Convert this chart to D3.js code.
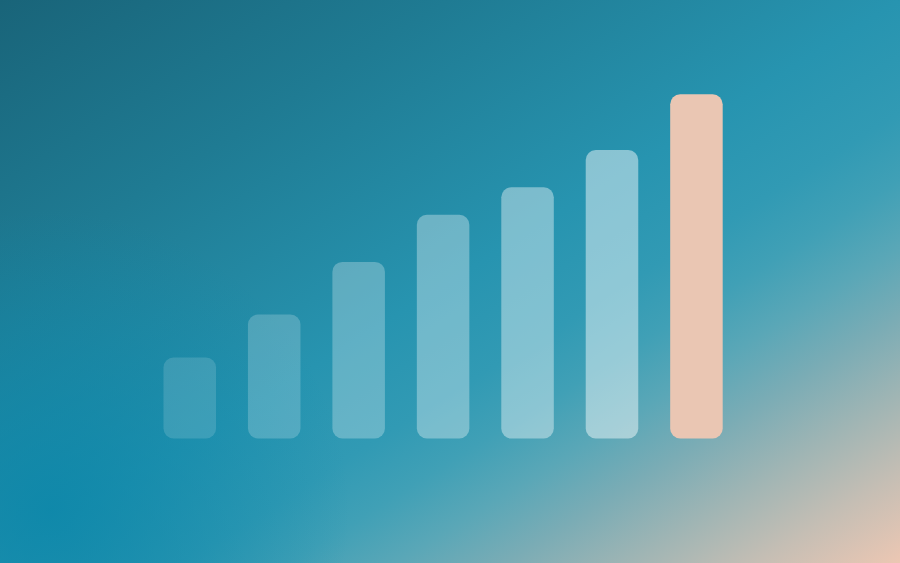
<!DOCTYPE html>
<html>
<head>
<meta charset="utf-8">
<script src="https://cdn.jsdelivr.net/npm/d3@7"></script>
<style>
    html, body { margin: 0; padding: 0; overflow: hidden; }
    svg { display: block; }
</style>
</head>
<body>
<div id="chart"></div>
<script>
/*
    Data
*/
const categories = ["A", "B", "C", "D", "E", "F", "G"];
const values = [23.5, 36, 51.3, 65, 73, 83.8, 100];
const highlight = "G";

/*
    Draw
*/
function main() {
    const width = 900;
    const height = 563;

    const svg = d3.select("#chart")
        .append("svg")
        .attr("width", width)
        .attr("height", height);

    // Background gradient (corner to corner)
    const defs = svg.append("defs");
    const grad = defs.append("linearGradient")
        .attr("id", "bg")
        .attr("x1", 0).attr("y1", 0)
        .attr("x2", 1).attr("y2", 1);
    const stops = [
        [0, "#196479"],
        [0.25, "#1f7b93"],
        [0.5, "#2794b0"],
        [0.6, "#319ab4"],
        [0.66, "#40a0b6"],
        [0.72, "#5aa7b7"],
        [0.78, "#7aacb5"],
        [0.85, "#a0b5b4"],
        [0.92, "#c5beb4"],
        [1, "#ecc7b3"]
    ];
    stops.forEach(s => {
        grad.append("stop").attr("offset", s[0]).attr("stop-color", s[1]);
    });
    svg.append("rect")
        .attr("width", width)
        .attr("height", height)
        .attr("fill", "url(#bg)");

    // bottom-left glow, more saturated blue
    const glow = defs.append("radialGradient")
        .attr("id", "glow")
        .attr("gradientUnits", "userSpaceOnUse")
        .attr("cx", 50).attr("cy", 510).attr("r", 300);
    glow.append("stop").attr("offset", 0).attr("stop-color", "#0a86a9").attr("stop-opacity", 0.8);
    glow.append("stop").attr("offset", 1).attr("stop-color", "#0a86a9").attr("stop-opacity", 0);
    svg.append("rect")
        .attr("width", width)
        .attr("height", height)
        .attr("fill", "url(#glow)");

    // Scales
    const xScale = d3.scaleBand()
        .domain(categories)
        .range([163.5, 722.7])
        .paddingInner(0.378)
        .paddingOuter(0);
    const yScale = d3.scaleLinear()
        .domain([0, 100])
        .range([438.5, 94.3]);
    const opacity = d3.scaleLinear()
        .domain([0, 5])
        .range([0.14, 0.46]);

    // Bars
    svg.selectAll(".bar")
        .data(values)
        .enter()
        .append("rect")
        .attr("class", "bar")
        .attr("x", (d, i) => xScale(categories[i]))
        .attr("y", d => yScale(d))
        .attr("width", xScale.bandwidth())
        .attr("height", d => yScale(0) - yScale(d))
        .attr("rx", 10)
        .attr("fill", (d, i) => categories[i] === highlight ? "#eac6b3" : "#ffffff")
        .attr("fill-opacity", (d, i) => categories[i] === highlight ? 1 : opacity(i));
}

main()
</script>
</body>
</html>
